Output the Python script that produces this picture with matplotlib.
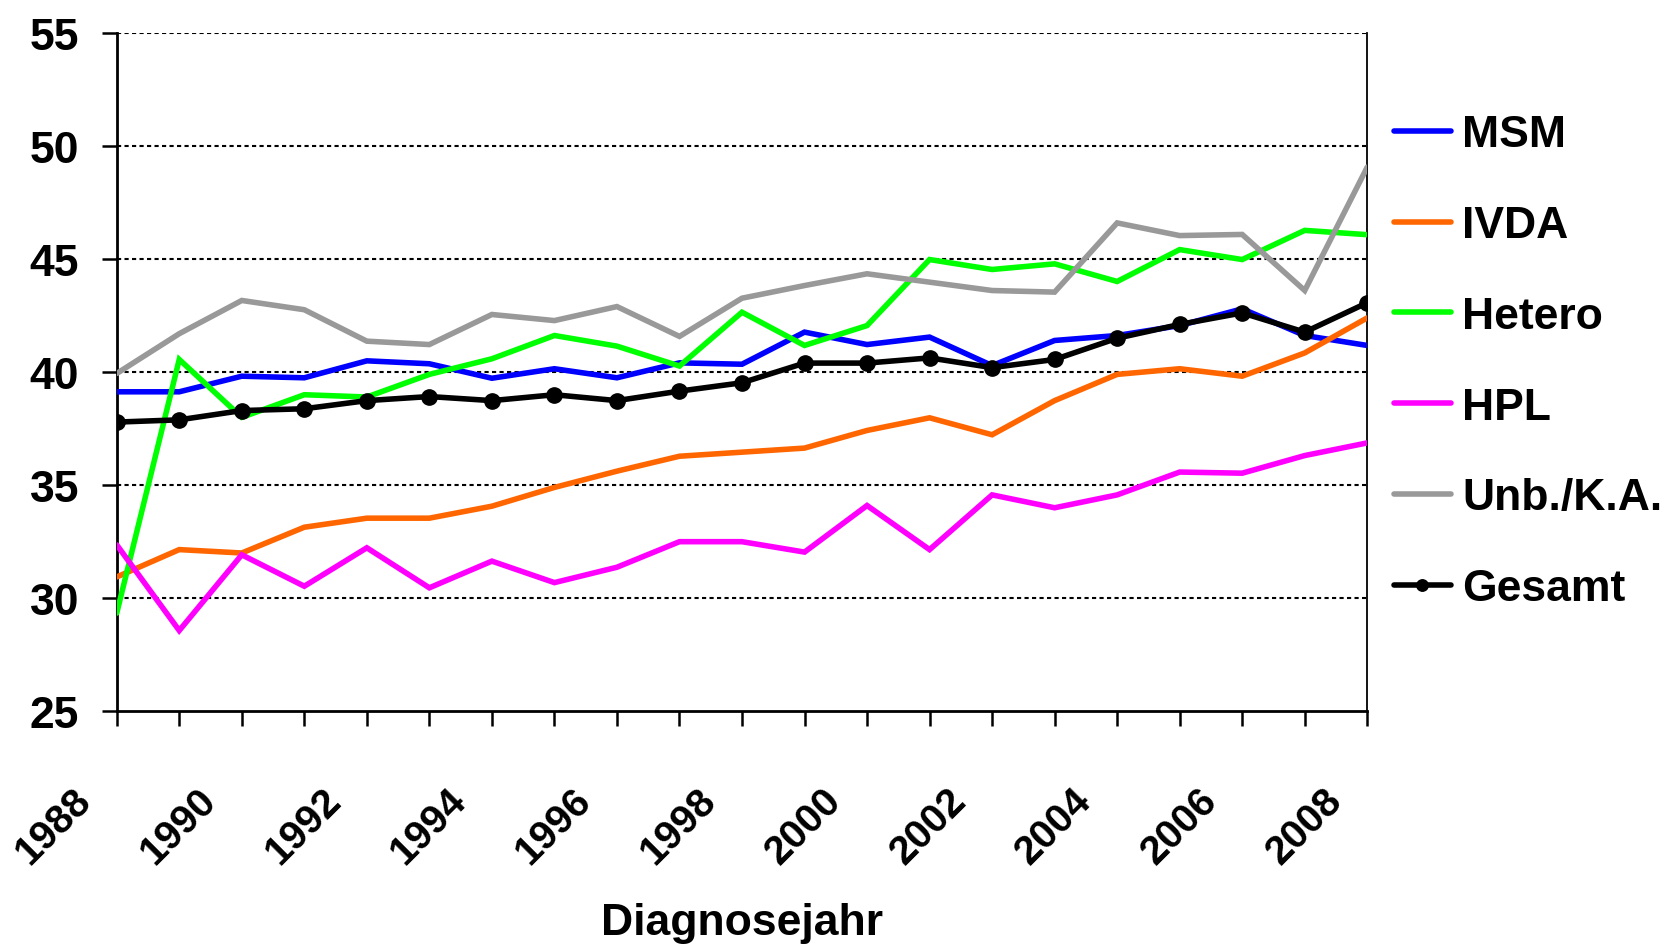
import matplotlib
matplotlib.use("Agg")
import matplotlib.pyplot as plt
from matplotlib.ticker import MultipleLocator
from matplotlib.transforms import ScaledTranslation

years = list(range(1988, 2009))
msm = [39.13, 39.13, 39.82, 39.75, 40.5, 40.37, 39.73, 40.15, 39.75, 40.41, 40.35,
       41.77, 41.22, 41.55, 40.29, 41.4, 41.62, 42.06, 42.8, 41.62, 41.18]
ivda = [30.94, 32.15, 32.0, 33.14, 33.54, 33.54, 34.07, 34.9, 35.62, 36.28, 36.46,
        36.64, 37.42, 37.98, 37.23, 38.74, 39.9, 40.15, 39.82, 40.85, 42.4]
hetero = [29.34, 40.56, 38.0, 39.0, 38.9, 39.9, 40.59, 41.62, 41.15, 40.27, 42.65,
          41.18, 42.06, 44.98, 44.54, 44.79, 44.01, 45.42, 44.98, 46.27, 46.08]
hpl = [32.36, 28.57, 31.92, 30.53, 32.23, 30.46, 31.64, 30.69, 31.37, 32.5, 32.5,
       32.04, 34.1, 32.15, 34.57, 34.0, 34.57, 35.58, 35.53, 36.31, 36.87]
unb = [39.94, 41.7, 43.17, 42.76, 41.37, 41.22, 42.55, 42.28, 42.9, 41.58, 43.27,
       43.83, 44.35, 43.98, 43.61, 43.54, 46.6, 46.04, 46.09, 43.61, 49.07]
gesamt = [37.79, 37.89, 38.3, 38.38, 38.74, 38.92, 38.74, 39.0, 38.74, 39.16, 39.53,
          40.4, 40.4, 40.63, 40.2, 40.56, 41.5, 42.11, 42.62, 41.77, 43.07]

labels = ["MSM", "IVDA", "Hetero", "HPL", "Unb./K.A.", "Gesamt"]
colors = ["#0000FF", "#FF6600", "#00FF00", "#FF00FF", "#999999", "#000000"]
series = [msm, ivda, hetero, hpl, unb, gesamt]

plt.rcParams['font.family'] = ['Liberation Sans', 'DejaVu Sans']
plt.rcParams['font.weight'] = 'bold'

fig = plt.figure(figsize=(16.77, 9.45), dpi=100)
ax = fig.add_axes([0.0696, 0.2463, 0.8153 - 0.0696, 0.964 - 0.2463])

for s, lab, c in zip(series, labels, colors):
    if lab == "Gesamt":
        ax.plot(years, s, color=c, lw=4.0, marker='o', markersize=11, label=lab,
                solid_capstyle='round', zorder=5)
    else:
        ax.plot(years, s, color=c, lw=4.0, label=lab, solid_capstyle='round',
                solid_joinstyle='miter', zorder=3)

ax.set_xlim(1988, 2008)
ax.set_ylim(25, 55)
ax.yaxis.set_major_locator(MultipleLocator(5))
ax.xaxis.set_major_locator(MultipleLocator(2))
ax.xaxis.set_minor_locator(MultipleLocator(1))

for v in range(30, 56, 5):
    ax.axhline(v, color='black', lw=1.5, linestyle=(0, (2, 1.6)), zorder=1)

ax.spines['top'].set_visible(False)
ax.spines['left'].set_linewidth(2)
ax.spines['bottom'].set_linewidth(2)
ax.spines['right'].set_linewidth(1.3)

ax.tick_params(axis='y', which='major', direction='out', length=11, width=1.8,
               labelsize=32, pad=16)
ax.tick_params(axis='x', which='both', direction='out', length=11, width=1.8)
ax.tick_params(axis='x', which='major', labelsize=29, pad=6)
for t in ax.get_yticklabels():
    t.set_fontweight('bold')
ax.set_xticks(range(1988, 2009, 2))
ax.set_xticklabels([str(y) for y in range(1988, 2009, 2)], rotation=45,
                   ha='right', rotation_mode='anchor', fontweight='bold')
off = ScaledTranslation(-45 / 100, -46 / 100, fig.dpi_scale_trans)
for t in ax.get_xticklabels():
    t.set_transform(t.get_transform() + off)

ax.set_xlabel("Diagnosejahr", fontsize=32, fontweight='bold')
ax.xaxis.set_label_coords(0.5, -0.312)
ax.xaxis.label.set_va('center')

leg = fig.legend(loc='upper left', bbox_to_anchor=(0.831, 0.878), frameon=False,
                 fontsize=32, handlelength=1.3, handletextpad=0.25,
                 labelspacing=1.12, markerscale=0.75, borderaxespad=0,
                 borderpad=0)
for t in leg.get_texts():
    t.set_fontweight('bold')

fig.savefig("out.png", dpi=100)
